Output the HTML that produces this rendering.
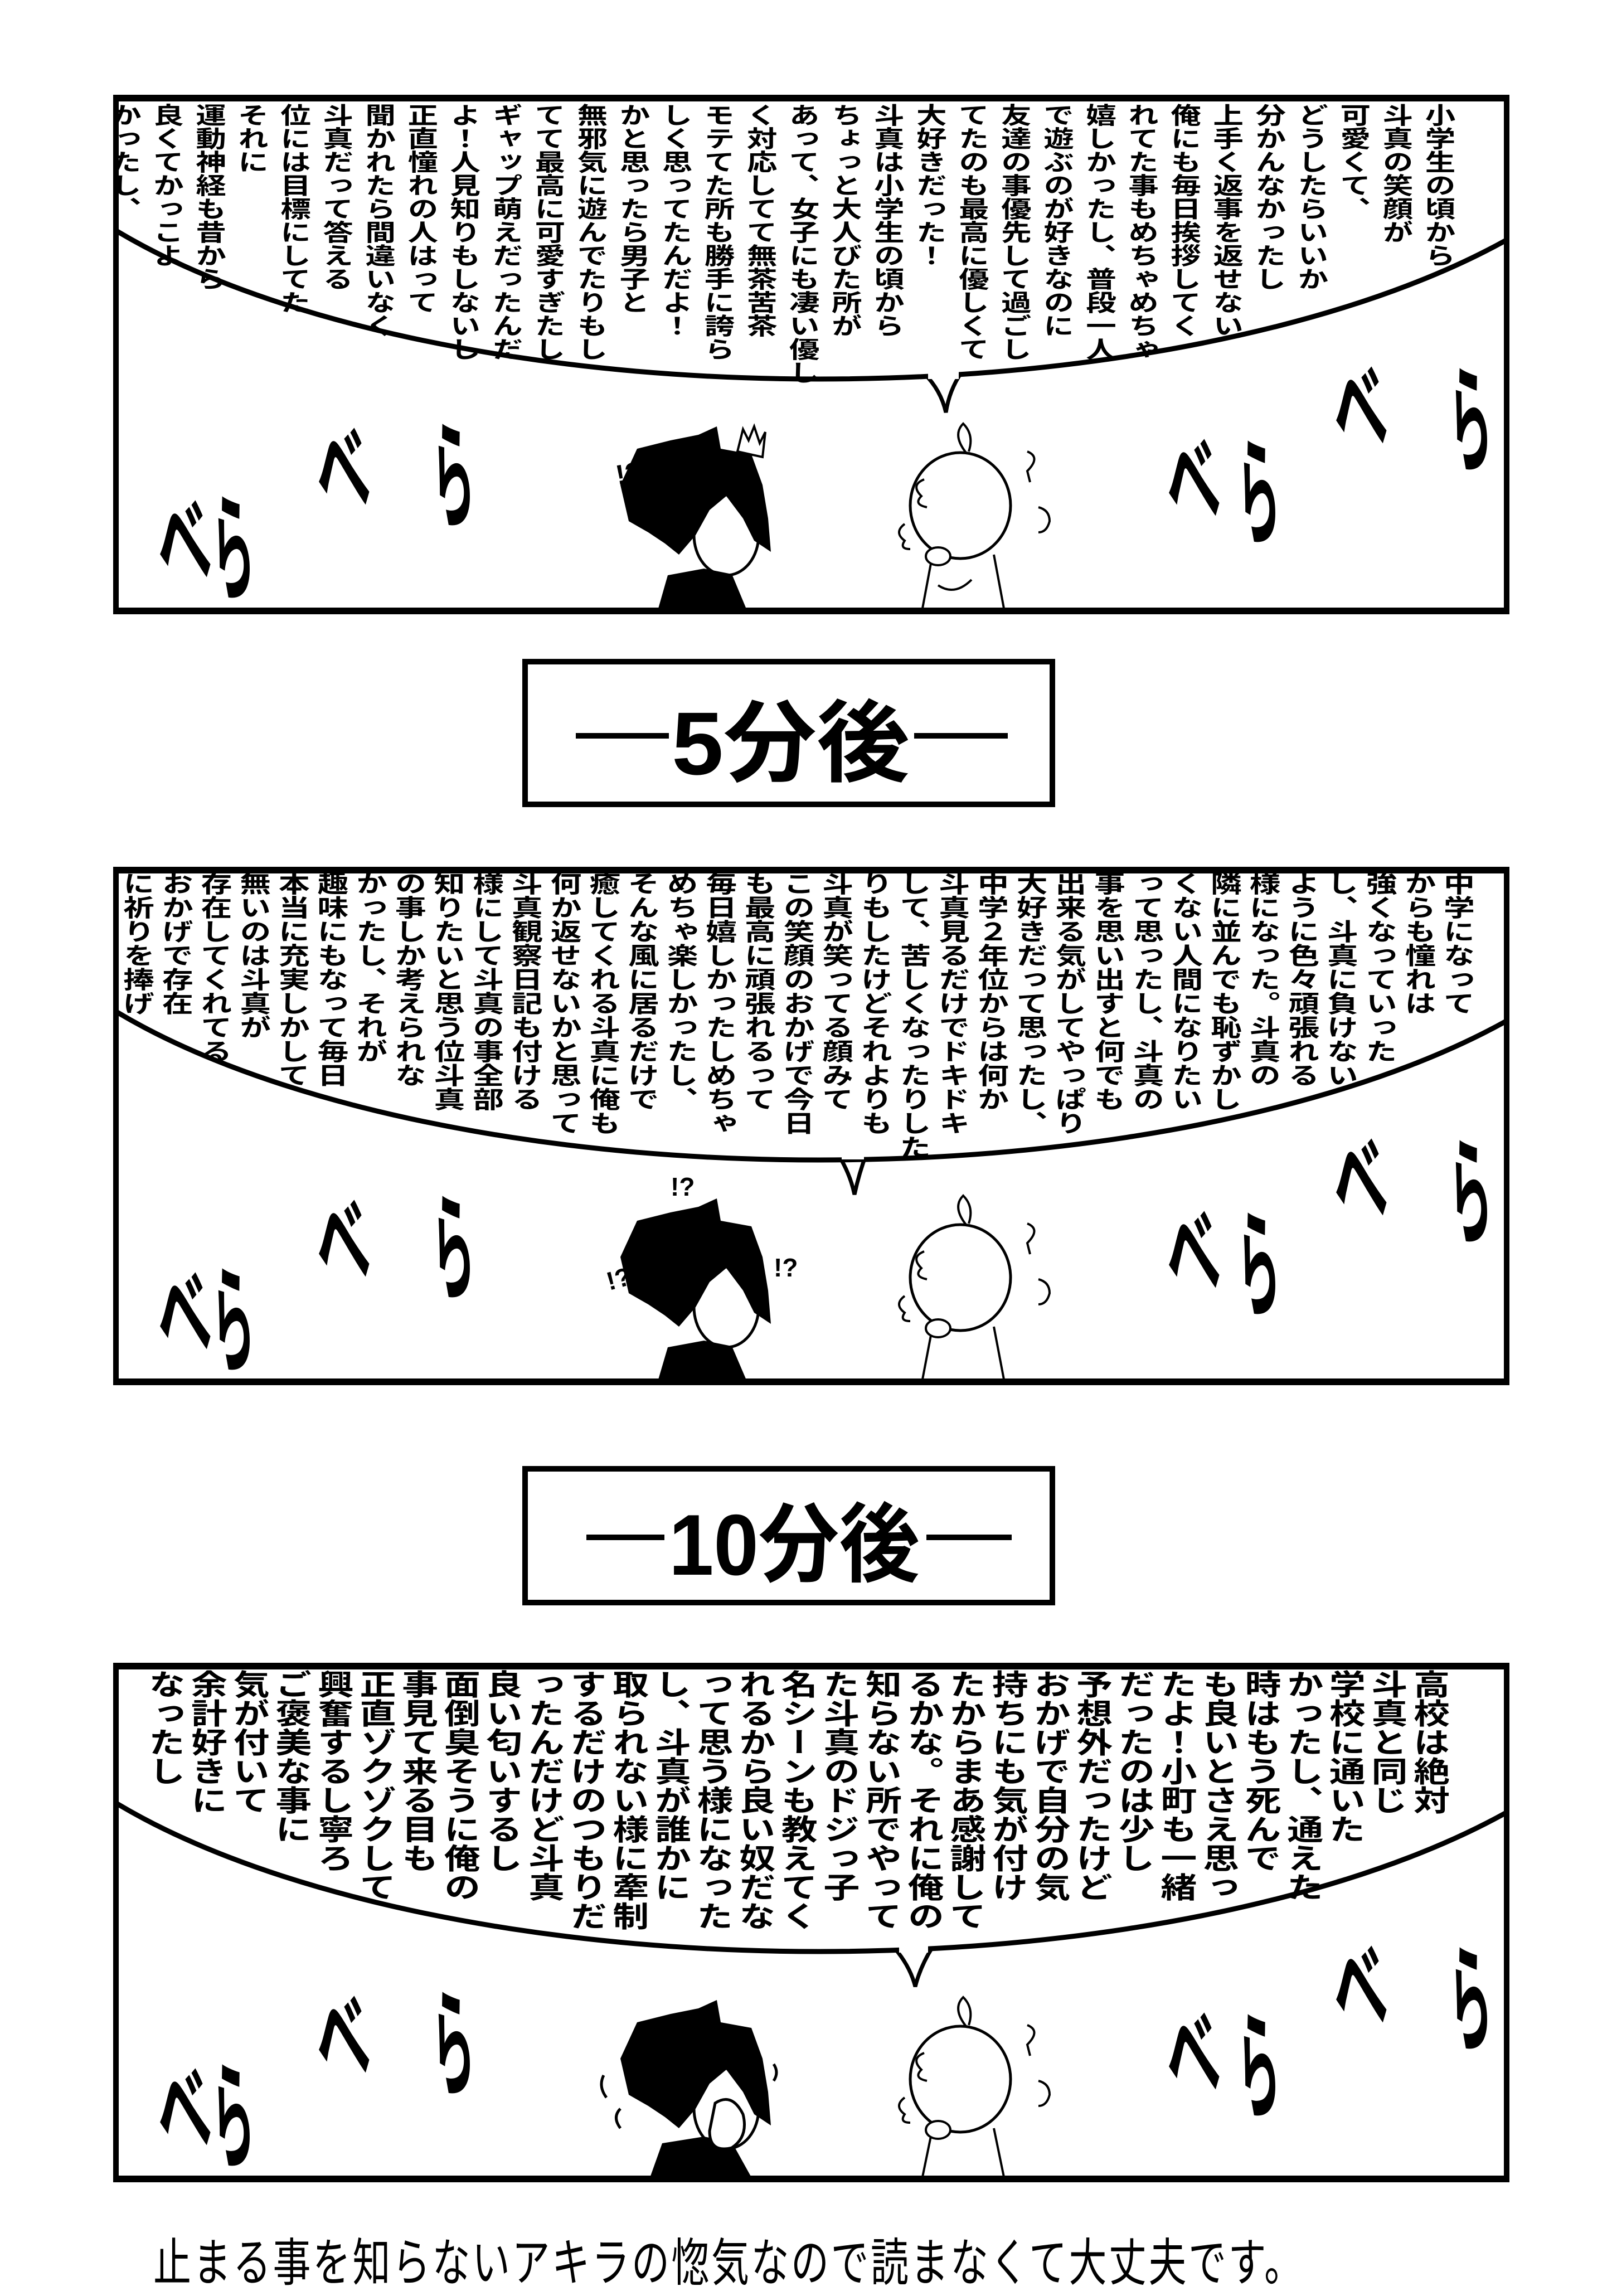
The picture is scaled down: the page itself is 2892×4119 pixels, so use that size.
<!DOCTYPE html>
<html><head><meta charset="utf-8">
<style>
html,body{margin:0;padding:0;background:#fff;}
body{width:2892px;height:4096px;position:relative;overflow:hidden;font-family:"Liberation Sans","Noto Sans CJK JP",sans-serif;}
.panel{position:absolute;left:203px;width:2505px;height:932px;border:10px solid #000;border-top-width:12px;border-bottom-width:12px;box-sizing:border-box;overflow:hidden;background:#fff;}
.panel svg.bg{position:absolute;left:-10px;top:-12px;}
.vt{position:absolute;writing-mode:vertical-rl;font-family:"Noto Sans CJK JP",sans-serif;font-weight:700;color:#000;white-space:pre;transform-origin:right top;}
.title{position:absolute;left:937px;width:956px;border:10px solid #000;box-sizing:border-box;background:#fff;}
</style></head><body>

<!-- PANEL 1 -->
<div class="panel" style="top:170px;">
<svg class="bg" width="2505" height="932" viewBox="0 0 2505 932">
<path d="M1455,500 Q1485,530 1494,570 Q1500,530 1522,498" fill="#fff" stroke="#000" stroke-width="7"/>
<ellipse cx="1267" cy="-70" rx="1500" ry="580" fill="#fff" stroke="#000" stroke-width="9"/>
<rect x="1462" y="490" width="55" height="20" fill="#fff"/>
<g font-family="Noto Sans CJK JP,sans-serif" font-weight="700" font-size="125" text-anchor="middle">
<text transform="translate(135,870) rotate(-8) scale(0.75,1.5)">べ</text>
<text transform="translate(220,890) rotate(-4) scale(0.6,1.7)">ら</text>
<text transform="translate(420,740) rotate(-8) scale(0.75,1.5)">べ</text>
<text transform="translate(615,760) rotate(-4) scale(0.6,1.7)">ら</text>
<text transform="translate(1945,760) rotate(-8) scale(0.75,1.5)">べ</text>
<text transform="translate(2060,790) rotate(-4) scale(0.6,1.7)">ら</text>
<text transform="translate(2245,630) rotate(-8) scale(0.75,1.5)">べ</text>
<text transform="translate(2440,660) rotate(-4) scale(0.6,1.7)">ら</text>
</g>
<g>
<ellipse cx="1100" cy="790" rx="58" ry="72" fill="#fff" stroke="#000" stroke-width="5"/>
<path d="M910,700 L940,635 L1000,620 L1050,610 L1083,595 L1090,635 L1145,645 L1165,700 L1175,760 L1180,820 L1150,800 L1130,760 L1100,720 L1070,745 L1045,790 L1015,825 L990,805 L960,785 L925,765 Z" fill="#000"/>
<path d="M975,932 L995,862 L1060,850 L1110,860 L1140,932 Z" fill="#000"/>
<text x="905" y="700" font-size="50" font-weight="700" font-family="Liberation Sans,sans-serif" transform="rotate(-10 905 700)">!?</text>
<path d="M1120,640 L1130,600 L1140,620 L1150,595 L1160,625 L1170,605 L1165,650 Z" fill="none" stroke="#000" stroke-width="4"/>
<ellipse cx="1520" cy="737" rx="90" ry="95" fill="#fff" stroke="#000" stroke-width="5"/>
<path d="M1530,642 Q1505,610 1525,590 Q1545,610 1535,640" fill="none" stroke="#000" stroke-width="4"/>
<path d="M1470,825 L1450,932 M1580,825 L1600,932 M1480,880 Q1510,900 1540,870" fill="none" stroke="#000" stroke-width="4"/>
<ellipse cx="1480" cy="828" rx="22" ry="16" fill="#fff" stroke="#000" stroke-width="4"/>
<path d="M1455,690 q-25,10 -5,30 q-15,15 10,20" fill="none" stroke="#000" stroke-width="4"/>
<path d="M1420,770 q-20,15 0,30 q-10,15 10,15" fill="none" stroke="#000" stroke-width="4"/>
<path d="M1640,640 q25,10 0,35 l5,20" fill="none" stroke="#000" stroke-width="4"/>
<path d="M1660,740 q20,5 20,25 q-5,20 -20,20" fill="none" stroke="#000" stroke-width="4"/>
</g>
</svg>
<div class="vt" style="right:77px;top:3px;font-size:42px;line-height:58.5px;transform:scaleX(1.3);">小学生の頃から
斗真の笑顔が
可愛くて、
どうしたらいいか
分かんなかったし
上手く返事を返せない
俺にも毎日挨拶してく
れてた事もめちゃめちゃ
嬉しかったし、普段一人
で遊ぶのが好きなのに
友達の事優先して過ごし
てたのも最高に優しくて
大好きだった！
斗真は小学生の頃から
ちょっと大人びた所が
あって、女子にも凄い優し
く対応してて無茶苦茶
モテてた所も勝手に誇ら
しく思ってたんだよ！
かと思ったら男子と
無邪気に遊んでたりもし
てて最高に可愛すぎたし
ギャップ萌えだったんだ
よ！人見知りもしないし
正直憧れの人はって
聞かれたら間違いなく
斗真だって答える
位には目標にしてた
それに
運動神経も昔から
良くてかっこよ
かったし、</div>
</div>

<!-- TITLE 1 -->
<div class="title" style="top:1182px;height:266px;">
<svg width="936" height="246" viewBox="0 0 936 246" style="position:absolute;left:0;top:0;">
<rect x="86" y="123" width="167" height="10" fill="#000"/>
<rect x="693" y="123" width="168" height="10" fill="#000"/>
<text x="258" y="197" textLength="427" lengthAdjust="spacingAndGlyphs" font-size="160" font-weight="700" font-family="Liberation Sans,Noto Sans CJK JP,sans-serif">5分後</text>
</svg>
</div>

<!-- PANEL 2 -->
<div class="panel" style="top:1555px;height:930px;">
<svg class="bg" width="2505" height="930" viewBox="0 0 2505 930">
<path d="M1300,515 Q1322,550 1330,588 Q1338,550 1352,513" fill="#fff" stroke="#000" stroke-width="7"/>
<ellipse cx="1267" cy="-54" rx="1500" ry="580" fill="#fff" stroke="#000" stroke-width="9"/>
<rect x="1307" y="505" width="40" height="20" fill="#fff"/>
<g font-family="Noto Sans CJK JP,sans-serif" font-weight="700" font-size="125" text-anchor="middle">
<text transform="translate(135,870) rotate(-8) scale(0.75,1.5)">べ</text>
<text transform="translate(220,890) rotate(-4) scale(0.6,1.7)">ら</text>
<text transform="translate(420,740) rotate(-8) scale(0.75,1.5)">べ</text>
<text transform="translate(615,760) rotate(-4) scale(0.6,1.7)">ら</text>
<text transform="translate(1945,760) rotate(-8) scale(0.75,1.5)">べ</text>
<text transform="translate(2060,790) rotate(-4) scale(0.6,1.7)">ら</text>
<text transform="translate(2245,630) rotate(-8) scale(0.75,1.5)">べ</text>
<text transform="translate(2440,660) rotate(-4) scale(0.6,1.7)">ら</text>
</g>
<g>
<ellipse cx="1100" cy="790" rx="58" ry="72" fill="#fff" stroke="#000" stroke-width="5"/>
<path d="M910,700 L940,635 L1000,620 L1050,610 L1083,595 L1090,635 L1145,645 L1165,700 L1175,760 L1180,820 L1150,800 L1130,760 L1100,720 L1070,745 L1045,790 L1015,825 L990,805 L960,785 L925,765 Z" fill="#000"/>
<path d="M975,930 L995,862 L1060,850 L1110,860 L1140,930 Z" fill="#000"/>
<text x="1000" y="590" font-size="46" font-weight="700" font-family="Liberation Sans,sans-serif">!?</text>
<text x="890" y="760" font-size="46" font-weight="700" font-family="Liberation Sans,sans-serif" transform="rotate(-15 890 760)">!?</text>
<text x="1185" y="735" font-size="46" font-weight="700" font-family="Liberation Sans,sans-serif">!?</text>
<ellipse cx="1520" cy="737" rx="90" ry="95" fill="#fff" stroke="#000" stroke-width="5"/>
<path d="M1530,642 Q1505,610 1525,590 Q1545,610 1535,640" fill="none" stroke="#000" stroke-width="4"/>
<path d="M1470,825 L1450,930 M1580,825 L1600,930" fill="none" stroke="#000" stroke-width="4"/>
<ellipse cx="1480" cy="828" rx="22" ry="16" fill="#fff" stroke="#000" stroke-width="4"/>
<path d="M1455,690 q-25,10 -5,30 q-15,15 10,20" fill="none" stroke="#000" stroke-width="4"/>
<path d="M1420,770 q-20,15 0,30 q-10,15 10,15" fill="none" stroke="#000" stroke-width="4"/>
<path d="M1640,640 q25,10 0,35 l5,20" fill="none" stroke="#000" stroke-width="4"/>
<path d="M1660,740 q20,5 20,25 q-5,20 -20,20" fill="none" stroke="#000" stroke-width="4"/>
</g>
</svg>
<div class="vt" style="right:46px;top:-4px;font-size:43px;line-height:53.6px;transform:scaleX(1.3);">中学になって
からも憧れは
強くなっていった
し、斗真に負けない
ように色々頑張れる
様になった。斗真の
隣に並んでも恥ずかし
くない人間になりたい
って思ったし、斗真の
事を思い出すと何でも
出来る気がしてやっぱり
大好きだって思ったし、
中学２年位からは何か
斗真見るだけでドキドキ
して、苦しくなったりした
りもしたけどそれよりも
斗真が笑ってる顔みて
この笑顔のおかげで今日
も最高に頑張れるって
毎日嬉しかったしめちゃ
めちゃ楽しかったし、
そんな風に居るだけで
癒してくれる斗真に俺も
何か返せないかと思って
斗真観察日記も付ける
様にして斗真の事全部
知りたいと思う位斗真
の事しか考えられな
かったし、それが
趣味にもなって毎日
本当に充実しかして
無いのは斗真が
存在してくれてる
おかげで存在
に祈りを捧げ</div>
</div>

<!-- TITLE 2 -->
<div class="title" style="top:2630px;height:250px;">
<svg width="936" height="230" viewBox="0 0 936 230" style="position:absolute;left:0;top:0;">
<rect x="105" y="113" width="140" height="10" fill="#000"/>
<rect x="715" y="113" width="153" height="10" fill="#000"/>
<text x="253" y="185" textLength="450" lengthAdjust="spacingAndGlyphs" font-size="155" font-weight="700" font-family="Liberation Sans,Noto Sans CJK JP,sans-serif">10分後</text>
</svg>
</div>

<!-- PANEL 3 -->
<div class="panel" style="top:2983px;height:932px;">
<svg class="bg" width="2505" height="932" viewBox="0 0 2505 932">
<path d="M1402,512 Q1430,545 1439,581 Q1448,545 1470,510" fill="#fff" stroke="#000" stroke-width="7"/>
<ellipse cx="1267" cy="-62" rx="1500" ry="580" fill="#fff" stroke="#000" stroke-width="9"/>
<rect x="1410" y="500" width="52" height="20" fill="#fff"/>
<g font-family="Noto Sans CJK JP,sans-serif" font-weight="700" font-size="125" text-anchor="middle">
<text transform="translate(135,870) rotate(-8) scale(0.75,1.5)">べ</text>
<text transform="translate(220,890) rotate(-4) scale(0.6,1.7)">ら</text>
<text transform="translate(420,740) rotate(-8) scale(0.75,1.5)">べ</text>
<text transform="translate(615,760) rotate(-4) scale(0.6,1.7)">ら</text>
<text transform="translate(1945,770) rotate(-8) scale(0.75,1.5)">べ</text>
<text transform="translate(2060,800) rotate(-4) scale(0.6,1.7)">ら</text>
<text transform="translate(2245,650) rotate(-8) scale(0.75,1.5)">べ</text>
<text transform="translate(2440,680) rotate(-4) scale(0.6,1.7)">ら</text>
</g>
<g>
<ellipse cx="1100" cy="800" rx="58" ry="72" fill="#fff" stroke="#000" stroke-width="5"/>
<path d="M910,710 L940,645 L1000,630 L1050,620 L1083,605 L1090,645 L1145,655 L1165,710 L1175,770 L1180,830 L1150,810 L1130,770 L1100,730 L1070,755 L1045,800 L1015,835 L990,815 L960,795 L925,775 Z" fill="#000"/>
<path d="M960,932 L985,862 L1060,850 L1110,860 L1150,932 Z" fill="#000"/>
<path d="M1080,790 q30,-20 50,20 q10,40 -20,60 q-40,10 -40,-30 Z" fill="#fff" stroke="#000" stroke-width="5"/>
<path d="M1025,670 q15,-10 35,-5 M1085,660 q15,-10 35,-2 M880,740 q-10,20 5,40 M910,800 q-15,15 0,35 M1185,720 q10,15 0,30" fill="none" stroke="#000" stroke-width="5"/>
<ellipse cx="1520" cy="747" rx="90" ry="95" fill="#fff" stroke="#000" stroke-width="5"/>
<path d="M1530,652 Q1505,620 1525,600 Q1545,620 1535,650" fill="none" stroke="#000" stroke-width="4"/>
<path d="M1470,835 L1450,932 M1580,835 L1600,932" fill="none" stroke="#000" stroke-width="4"/>
<ellipse cx="1480" cy="838" rx="22" ry="16" fill="#fff" stroke="#000" stroke-width="4"/>
<path d="M1455,700 q-25,10 -5,30 q-15,15 10,20" fill="none" stroke="#000" stroke-width="4"/>
<path d="M1420,780 q-20,15 0,30 q-10,15 10,15" fill="none" stroke="#000" stroke-width="4"/>
<path d="M1640,650 q25,10 0,35 l5,20" fill="none" stroke="#000" stroke-width="4"/>
<path d="M1660,750 q20,5 20,25 q-5,20 -20,20" fill="none" stroke="#000" stroke-width="4"/>
</g>
</svg>
<div class="vt" style="right:93px;top:0px;font-size:52px;line-height:60.5px;transform:scaleX(1.25);">高校は絶対
斗真と同じ
学校に通いた
かったし、通えた
時はもう死んで
も良いとさえ思っ
たよ！小町も一緒
だったのは少し
予想外だったけど
おかげで自分の気
持ちにも気が付け
たからまあ感謝して
るかな。それに俺の
知らない所でやって
た斗真のドジっ子
名シーンも教えてく
れるから良い奴だな
って思う様になった
し、斗真が誰かに
取られない様に牽制
するだけのつもりだ
ったんだけど斗真
良い匂いするし
面倒臭そうに俺の
事見て来る目も
正直ゾクゾクして
興奮するし寧ろ
ご褒美な事に
気が付いて
余計好きに
なったし</div>
</div>

<!-- caption -->
<div style="position:absolute;left:275px;top:3985px;font-family:'Noto Sans CJK JP',sans-serif;font-size:68px;letter-spacing:3.5px;white-space:nowrap;transform:scaleY(1.35);transform-origin:left top;color:#000;">止まる事を知らないアキラの惚気なので読まなくて大丈夫です。</div>

</body></html>
